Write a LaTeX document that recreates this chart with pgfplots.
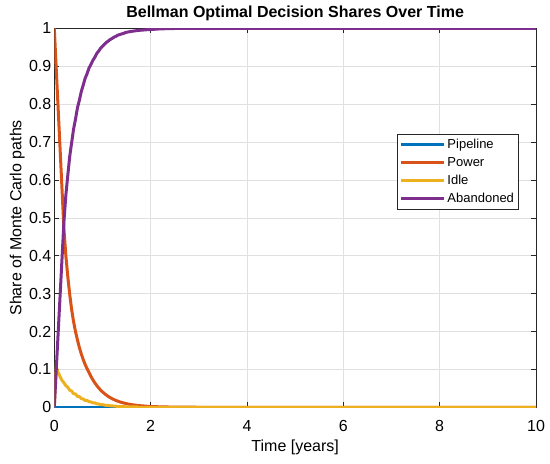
\documentclass[border=0pt]{standalone}
\usepackage{pgfplots}
\usepackage{pgfplotstable}
\pgfplotsset{compat=1.18}
\usepackage{fontspec}
\setmainfont{Liberation Sans}
\definecolor{mblue}{rgb}{0,0.447,0.741}
\definecolor{morange}{rgb}{0.85,0.325,0.098}
\definecolor{myellow}{rgb}{0.929,0.694,0.125}
\definecolor{mpurple}{rgb}{0.494,0.184,0.556}
\definecolor{axgray}{rgb}{0.15,0.15,0.15}
\definecolor{gridgray}{rgb}{0.88,0.88,0.88}
\pgfplotstableread{
t pow idle aban
0 1 0 0
0.04 0.894 0.105 0.098
0.08 0.788 0.092 0.196
0.12 0.682 0.081 0.294
0.16 0.576 0.071 0.392
0.20 0.470 0.065 0.490
0.24 0.400 0.057 0.560
0.28 0.345 0.053 0.612
0.32 0.298 0.045 0.662
0.36 0.258 0.043 0.698
0.40 0.226 0.036 0.734
0.44 0.200 0.035 0.760
0.48 0.178 0.029 0.790
0.52 0.158 0.028 0.810
0.56 0.141 0.023 0.833
0.60 0.126 0.022 0.850
0.64 0.113 0.018 0.868
0.68 0.102 0.018 0.880
0.72 0.092 0.015 0.895
0.76 0.0816 0.014 0.9044
0.80 0.0727 0.012 0.9153
0.84 0.0647 0.012 0.9233
0.88 0.0577 0.009 0.9333
0.92 0.0513 0.009 0.9397
0.96 0.0457 0.007 0.9473
1.00 0.0407 0.007 0.9523
1.04 0.0363 0.006 0.9577
1.08 0.0323 0.005 0.9627
1.12 0.0287 0.005 0.9663
1.16 0.0256 0.004 0.9704
1.20 0.0228 0.004 0.9732
1.24 0.0203 0.003 0.9767
1.28 0.0181 0.003 0.9789
1.32 0.0161 0.002 0.9819
1.36 0.0143 0.002 0.9837
1.40 0.0128 0.002 0.9852
1.44 0.0114 0.002 0.9866
1.48 0.0101 0.001 0.9889
1.52 0.0090 0.001 0.9900
1.56 0.0080 0.001 0.9910
1.60 0.0071 0.001 0.9919
1.64 0.0064 0.001 0.9926
1.68 0.0057 0.001 0.9933
1.72 0.0050 0.001 0.9940
1.76 0.0045 0.000 0.9945
1.80 0.0040 0.000 0.9950
1.84 0.0036 0.000 0.9954
1.88 0.0032 0.000 0.9958
1.92 0.0028 0.000 0.9962
1.96 0.0025 0.000 0.9965
2.00 0.0022 0.000 0.9968
2.20 0.0012 0.000 0.9985
2.50 0.0005 0.000 0.9995
3.00 0.0001 0.000 0.9999
4.00 0 0 1
10.00 0 0 1
}\shares
\begin{document}
\begin{tikzpicture}
\begin{axis}[
  scale only axis,
  width=481.7pt, height=379pt,
  xmin=0, xmax=10, ymin=0, ymax=1,
  xtick={0,2,...,10},
  ytick={0,0.1,...,1},
  yticklabels={0,0.1,0.2,0.3,0.4,0.5,0.6,0.7,0.8,0.9,1},
  /pgf/number format/assume math mode=true,
  tick align=inside, tick pos=both,
  major tick length=5pt,
  tick style={color=axgray, line width=0.5pt},
  axis line style={color=axgray, line width=0.6pt},
  xmajorgrids, ymajorgrids,
  grid style={color=gridgray, line width=0.5pt},
  ticklabel style={font=\fontsize{16}{19}\selectfont, color=black},
  xticklabel style={anchor=base, yshift=-24pt},
  yticklabel style={anchor=east, xshift=0.5pt},
  title={Bellman Optimal Decision Shares Over Time},
  title style={font=\fontsize{16}{19}\selectfont\bfseries, at={(axis description cs:0.5,1)}, anchor=base, yshift=5pt},
  xlabel={Time [years]},
  xlabel style={font=\fontsize{16}{19}\selectfont, at={(axis description cs:0.5,0)}, anchor=base, yshift=-44pt},
  ylabel={Share of Monte Carlo paths},
  ylabel style={font=\fontsize{16}{19}\selectfont, at={(axis description cs:0,0.5)}, anchor=base, yshift=33pt},
  legend style={at={(0.963,0.722)}, anchor=north east, draw=axgray,
    font=\fontsize{13}{15}\selectfont, row sep=3.4pt, inner xsep=2pt, inner ysep=3pt},
  legend cell align=left,
  legend image code/.code={\draw[#1] (0pt,0pt) -- (43pt,0pt);},
]
\addplot[color=mblue, line width=3pt] coordinates {(0,0) (10,0)};
\addlegendentry{Pipeline}
\addplot[color=morange, line width=3pt] table[x=t, y=pow] {\shares};
\addlegendentry{Power}
\addplot[color=myellow, line width=3pt] table[x=t, y=idle] {\shares};
\addlegendentry{Idle}
\addplot[color=mpurple, line width=3pt] table[x=t, y=aban] {\shares};
\addlegendentry{Abandoned}
\end{axis}
\pgfresetboundingbox
\useasboundingbox ([xshift=-54.3pt,yshift=-55.7pt]current axis.south west) rectangle ([xshift=14pt,yshift=28.3pt]current axis.north east);
\end{tikzpicture}
\end{document}
